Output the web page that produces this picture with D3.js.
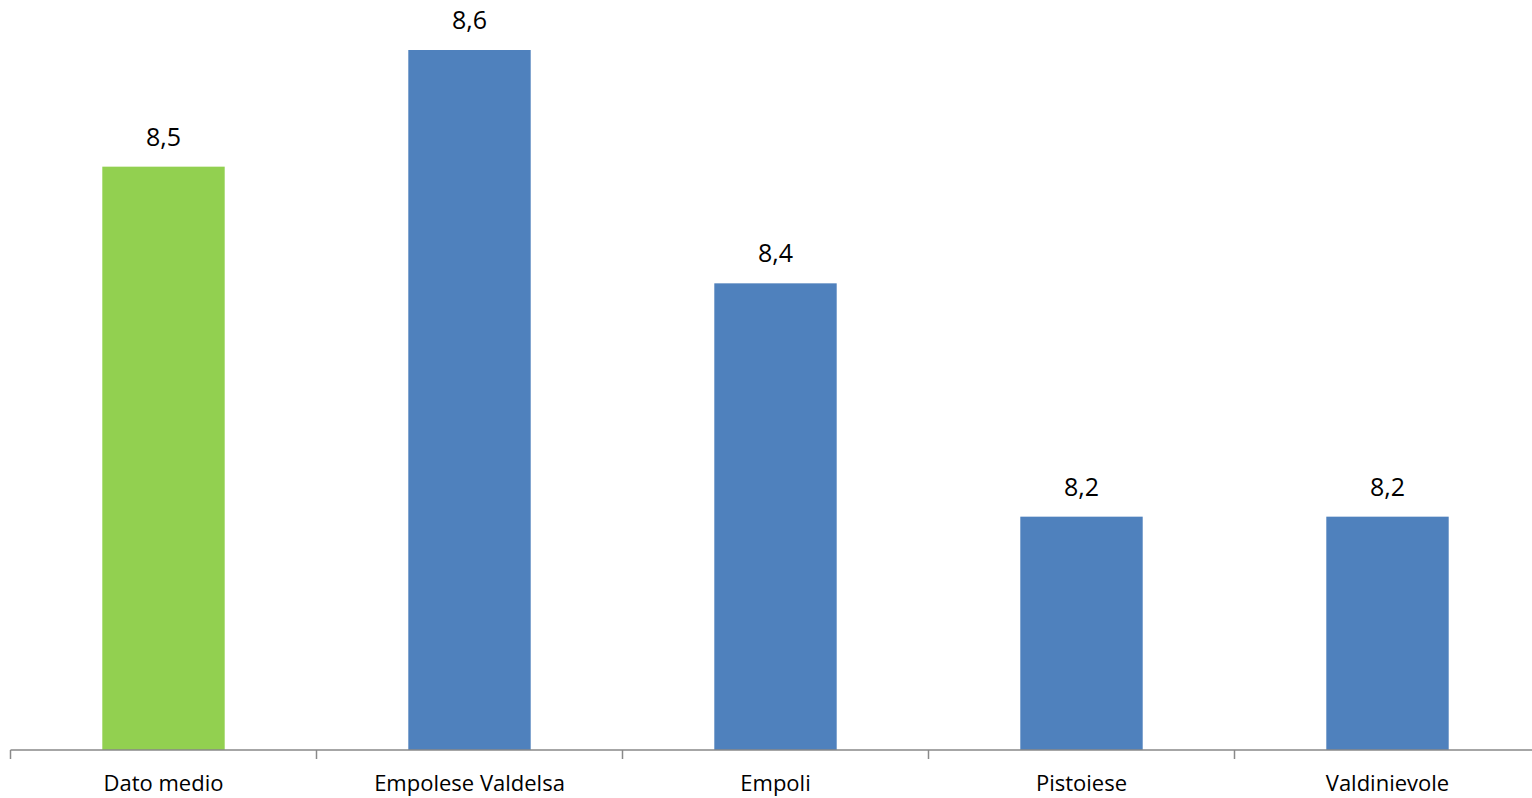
<!DOCTYPE html>
<html>
<head>
<meta charset="utf-8">
<script src="https://cdn.jsdelivr.net/npm/d3@7"></script>
<style>
  html, body { margin: 0; padding: 0; background: #fff; }
  svg { display: block; font-family: "Open Sans", "Liberation Sans", sans-serif; }
</style>
</head>
<body>
<svg id="chart" width="1532" height="798"></svg>
<script>
// Categories and values
const categories = ["Dato medio", "Empolese Valdelsa", "Empoli", "Pistoiese", "Valdinievole"];
const values = [8.5, 8.6, 8.4, 8.2, 8.2];
const valueLabels = ["8,5", "8,6", "8,4", "8,2", "8,2"];
const barColors = ["#92D050", "#4F81BD", "#4F81BD", "#4F81BD", "#4F81BD"];

const svg = d3.select("#chart");
const plotLeft = 10.5, plotRight = 1540.5, baseline = 750, plotTop = 50;

// Category slots (for tick marks) and bar positions
const slot = d3.scaleBand().domain(categories).range([plotLeft, plotRight]).padding(0);
const x = d3.scaleBand().domain(categories).range([plotLeft, plotRight])
  .paddingInner(0.6).paddingOuter(0.3);
const y = d3.scaleLinear().domain([8, 8.6]).range([baseline, plotTop]);

const data = categories.map((c, i) => ({ cat: c, v: values[i], label: valueLabels[i], color: barColors[i] }));

// Bars
svg.append("g").selectAll("rect").data(data).join("rect")
  .attr("x", d => x(d.cat))
  .attr("y", d => y(d.v))
  .attr("width", x.bandwidth())
  .attr("height", d => y(8) - y(d.v))
  .attr("fill", d => d.color);

// Value labels
svg.append("g").selectAll("text").data(data).join("text")
  .attr("x", d => x(d.cat) + x.bandwidth() / 2)
  .attr("y", d => y(d.v) - 21)
  .attr("text-anchor", "middle")
  .attr("font-size", 25)
  .attr("fill", "#000")
  .text(d => d.label);

// Category axis
const axis = svg.append("g").attr("stroke", "#898989").attr("stroke-width", 1.5);
axis.append("line")
  .attr("x1", plotLeft).attr("x2", 1532)
  .attr("y1", baseline).attr("y2", baseline);
axis.selectAll("line.tick").data(categories).join("line")
  .attr("class", "tick")
  .attr("x1", d => slot(d)).attr("x2", d => slot(d))
  .attr("y1", baseline).attr("y2", baseline + 9);

svg.append("g").selectAll("text").data(categories).join("text")
  .attr("x", d => slot(d) + slot.bandwidth() / 2)
  .attr("y", 791)
  .attr("text-anchor", "middle")
  .attr("font-size", 22)
  .attr("fill", "#000")
  .text(d => d);
</script>
</body>
</html>
